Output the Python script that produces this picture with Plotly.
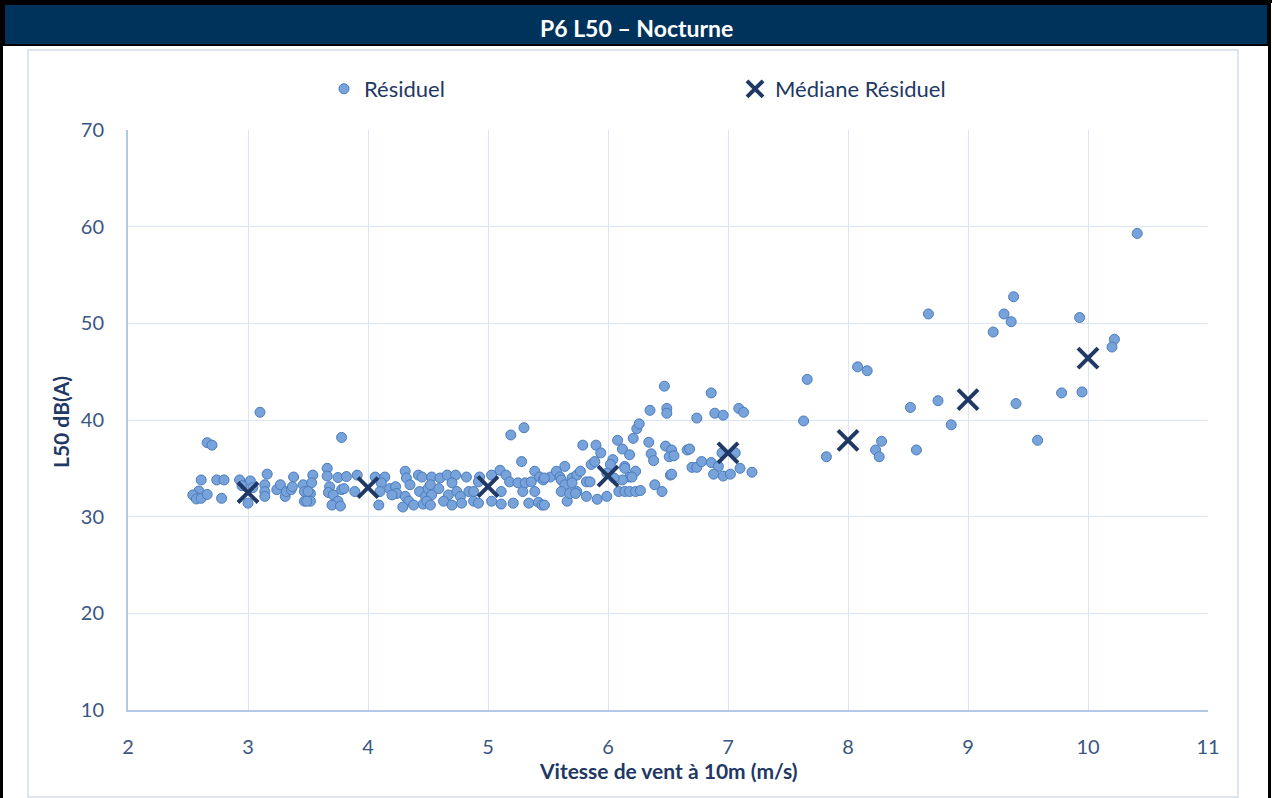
import plotly.graph_objects as go

# ---- data ----
res_x = [2.66, 2.70, 3.10, 2.61, 2.74, 2.80, 2.93, 3.02, 3.16, 3.14, 3.14, 3.14, 2.59, 2.56, 2.54, 2.57,
         2.61, 2.66, 2.78, 3.00, 2.95, 3.04, 3.24, 3.27, 3.31, 3.32, 3.36, 3.38, 3.37, 3.46, 3.47, 3.47,
         3.52,
         3.78, 3.66, 3.66, 3.54, 3.53, 3.50, 3.52, 3.49, 3.75, 3.82, 3.68, 3.67, 3.71, 3.78, 3.80, 3.75,
         3.70, 3.77, 3.89, 3.91, 4.06, 4.14, 4.11, 4.10, 4.09, 4.18, 4.23, 4.24, 4.20, 4.31, 4.32, 4.35,
         4.31, 4.34, 4.29, 4.38, 4.42, 4.45, 4.43, 4.46, 4.48, 4.50,
         5.19, 5.30, 5.28, 4.53, 4.52, 4.53, 4.49, 4.52, 4.60, 4.59, 4.66, 4.73, 4.70, 4.67, 4.63, 4.70,
         4.74, 4.77, 4.78, 4.82, 4.84, 4.88, 4.88, 4.92, 4.93, 4.92, 5.03, 5.03, 5.11, 5.11, 5.10, 5.15,
         5.18, 5.21, 5.25, 5.29, 5.31, 5.36, 5.39, 5.43, 5.46, 5.39, 5.34, 5.42, 5.45, 5.52,
         6.47, 6.35, 6.49, 6.49, 6.24, 6.26, 6.21, 6.08, 6.34, 6.48, 5.79, 5.90, 5.94, 6.12, 6.18, 6.36,
         6.38, 6.04, 6.02, 6.14, 6.23, 6.18, 6.12, 5.64, 5.57, 5.47, 5.60, 5.61, 5.70, 5.74, 5.77, 5.64,
         5.70, 5.74, 5.61, 5.66, 5.68, 5.73, 5.82, 5.85, 5.86, 5.89, 5.82, 5.91, 5.99, 6.09, 6.14, 6.18,
         6.23, 6.27, 6.20, 6.14, 6.39, 6.45, 6.52, 5.99, 6.05, 5.47,
         6.86, 6.74, 6.89, 6.96, 7.09, 7.13, 6.53, 6.51, 6.55, 6.66, 6.68, 6.53, 6.70, 6.74, 6.78, 6.86,
         6.92, 6.88, 6.96, 7.02, 7.10, 7.20, 6.95, 7.06,
         10.41, 9.38, 9.30, 9.36, 9.21, 9.93, 8.67, 10.22, 10.20, 8.08, 8.16, 7.66, 7.63, 9.78, 9.95, 9.40,
         8.75, 8.52, 8.86, 7.82, 8.23, 8.28, 8.26, 8.57, 9.58]
res_y = [37.65, 37.4, 40.8, 33.8, 33.8, 33.8, 33.8, 33.7, 34.4, 33.3, 32.6, 32.1, 32.65, 32.07, 32.24, 31.83,
         31.9, 32.3, 31.9, 31.4, 33.2, 33.0, 32.8, 33.3, 32.1, 32.6, 32.8, 34.1, 33.1, 33.3, 32.6, 31.6,
         32.4,
         38.2, 35.0, 34.2, 34.3, 33.5, 32.6, 31.6, 31.6, 34.05, 34.15, 33.1, 32.5, 32.25, 32.8, 32.9, 31.6,
         31.2, 31.1, 32.6, 34.3, 34.1, 34.1, 33.5, 32.6, 31.2, 32.9, 33.1, 32.4, 32.25, 34.7, 34.0, 33.3,
         32.1, 31.6, 31.0, 31.2, 34.3, 34.1, 32.6, 31.3, 32.1, 32.9,
         38.45, 39.2, 35.7, 34.1, 33.3, 32.25, 31.6, 31.2, 34.0, 32.9, 34.3, 34.3, 33.5, 32.25, 31.6, 31.2,
         32.6, 32.1, 31.4, 34.1, 32.6, 32.6, 31.6, 31.4, 34.1, 33.6, 34.3, 31.6, 31.3, 32.6, 34.8, 34.3,
         33.6, 31.4, 33.5, 32.6, 33.5, 33.6, 34.7, 34.1, 33.8, 32.6, 31.4, 31.5, 31.2, 34.1,
         43.5, 41.0, 41.2, 40.7, 39.1, 39.6, 38.1, 37.9, 37.7, 37.3, 37.4, 37.4, 36.6, 37.0, 36.4, 36.5,
         35.8, 35.9, 35.4, 35.2, 34.7, 34.1, 33.8, 35.2, 34.7, 34.0, 34.1, 33.8, 34.0, 34.3, 34.7, 33.3,
         33.5, 32.6, 32.6, 31.6, 32.4, 32.4, 33.6, 33.6, 35.4, 35.7, 32.1, 31.8, 32.1, 32.6, 32.6, 32.6,
         32.6, 32.7, 34.1, 35.0, 33.3, 32.6, 34.3, 34.5, 34.0, 31.2,
         42.8, 40.2, 40.7, 40.5, 41.2, 40.8, 36.9, 36.2, 36.3, 36.9, 37.0, 34.4, 35.1, 35.1, 35.7, 35.6,
         35.2, 34.4, 34.2, 34.4, 35.0, 34.6, 36.6, 36.6,
         59.3, 52.75, 50.97, 50.17, 49.1, 50.6, 50.97, 48.35, 47.55, 45.5, 45.1, 44.2, 39.9, 42.8, 42.9, 41.7,
         42.0, 41.3, 39.5, 36.2, 36.9, 37.8, 36.2, 36.9, 37.9]

med_x = [3, 4, 5, 6, 7, 8, 9, 10]
med_y = [32.5, 33.0, 33.1, 34.2, 36.6, 37.9, 42.1, 46.4]

x_ticks = [2, 3, 4, 5, 6, 7, 8, 9, 10, 11]
y_ticks = [10, 20, 30, 40, 50, 60, 70]

title_text = "P6 L50 – Nocturne"
x_title = "Vitesse de vent à 10m (m/s)"
y_title = "L50 dB(A)"

# ---- layout geometry ----
W, H = 1272, 798
L, R, T, B = 128, 64, 130, 88
PW, PH = W - L - R, H - T - B


def px(x):
    return (x - L) / PW


def py(y):
    return (H - B - y) / PH


FONT = "Lato, Open Sans, sans-serif"
NAVY = "#00335B"
DARK = "#1F3864"
TICK = "#3A5683"

fig = go.Figure()
fig.add_trace(go.Scatter(
    x=res_x, y=res_y, mode="markers", name="Résiduel",
    marker=dict(size=10, color="#78A2DA", line=dict(color="#4A7CBD", width=1)),
    legend="legend",
))
fig.add_trace(go.Scatter(
    x=med_x, y=med_y, mode="markers", name="Médiane Résiduel",
    marker=dict(symbol="x-thin", size=20, color=DARK, line=dict(color=DARK, width=4)),
    legend="legend2",
))

shapes = [
    # inner light frame
    dict(type="rect", xref="paper", yref="paper", x0=px(28), x1=px(1238), y0=py(50), y1=py(797),
         line=dict(color="#D3DDEA", width=1.5), fillcolor="rgba(0,0,0,0)", layer="below"),
    # title bar
    dict(type="rect", xref="paper", yref="paper", x0=px(4), x1=px(1268), y0=py(4), y1=py(45),
         line=dict(color="#000000", width=2), fillcolor=NAVY, layer="above"),
    # outer black border (top, left, right)
    dict(type="line", xref="paper", yref="paper", x0=px(0), x1=px(1272), y0=py(1.5), y1=py(1.5),
         line=dict(color="#000000", width=3), layer="above"),
    dict(type="line", xref="paper", yref="paper", x0=px(1.5), x1=px(1.5), y0=py(0), y1=py(798),
         line=dict(color="#000000", width=3), layer="above"),
    dict(type="line", xref="paper", yref="paper", x0=px(1269.5), x1=px(1269.5), y0=py(0), y1=py(798),
         line=dict(color="#000000", width=3), layer="above"),
]

annotations = [
    dict(text="<b>" + title_text + "</b>", xref="paper", yref="paper", x=px(636), y=py(28),
         xanchor="center", yanchor="middle", showarrow=False,
         font=dict(family=FONT, size=23, color="#FFFFFF")),
    dict(text="<b>" + x_title + "</b>", xref="paper", yref="paper", x=px(668), y=py(770),
         xanchor="center", yanchor="middle", showarrow=False,
         font=dict(family=FONT, size=21, color=DARK)),
    dict(text="<b>" + y_title + "</b>", xref="paper", yref="paper", x=px(60), y=py(422),
         xanchor="center", yanchor="middle", showarrow=False, textangle=-90,
         font=dict(family=FONT, size=21, color=DARK)),
]

fig.update_layout(
    width=W, height=H,
    margin=dict(l=L, r=R, t=T, b=B, autoexpand=False),
    paper_bgcolor="#FFFFFF", plot_bgcolor="#FFFFFF",
    font=dict(family=FONT, size=20, color=TICK),
    showlegend=True,
    legend=dict(x=px(324), y=py(89), xanchor="left", yanchor="middle", orientation="h",
                bgcolor="rgba(0,0,0,0)", font=dict(family=FONT, size=22, color=DARK)),
    legend2=dict(x=px(735), y=py(89), xanchor="left", yanchor="middle", orientation="h",
                 bgcolor="rgba(0,0,0,0)", font=dict(family=FONT, size=22, color=DARK)),
    shapes=shapes, annotations=annotations,
    xaxis=dict(range=[2, 11], tickvals=x_ticks, ticktext=[str(v) for v in x_ticks],
               showgrid=True, gridcolor="#DCE6F2", gridwidth=1, zeroline=False,
               showline=True, linecolor="#B4C7E7", linewidth=2, ticks="",
               ticklabelstandoff=18, tickfont=dict(family=FONT, size=20, color=TICK)),
    yaxis=dict(range=[10, 70], tickvals=y_ticks, ticktext=[str(v) for v in y_ticks],
               showgrid=True, gridcolor="#DCE6F2", gridwidth=1, zeroline=False,
               showline=True, linecolor="#B4C7E7", linewidth=2, ticks="",
               ticklabelstandoff=18, tickfont=dict(family=FONT, size=20, color=TICK)),
)

fig.write_html("out.html", config={"displayModeBar": False},
               post_script="document.body.style.margin='0px';document.body.style.overflow='hidden';")
